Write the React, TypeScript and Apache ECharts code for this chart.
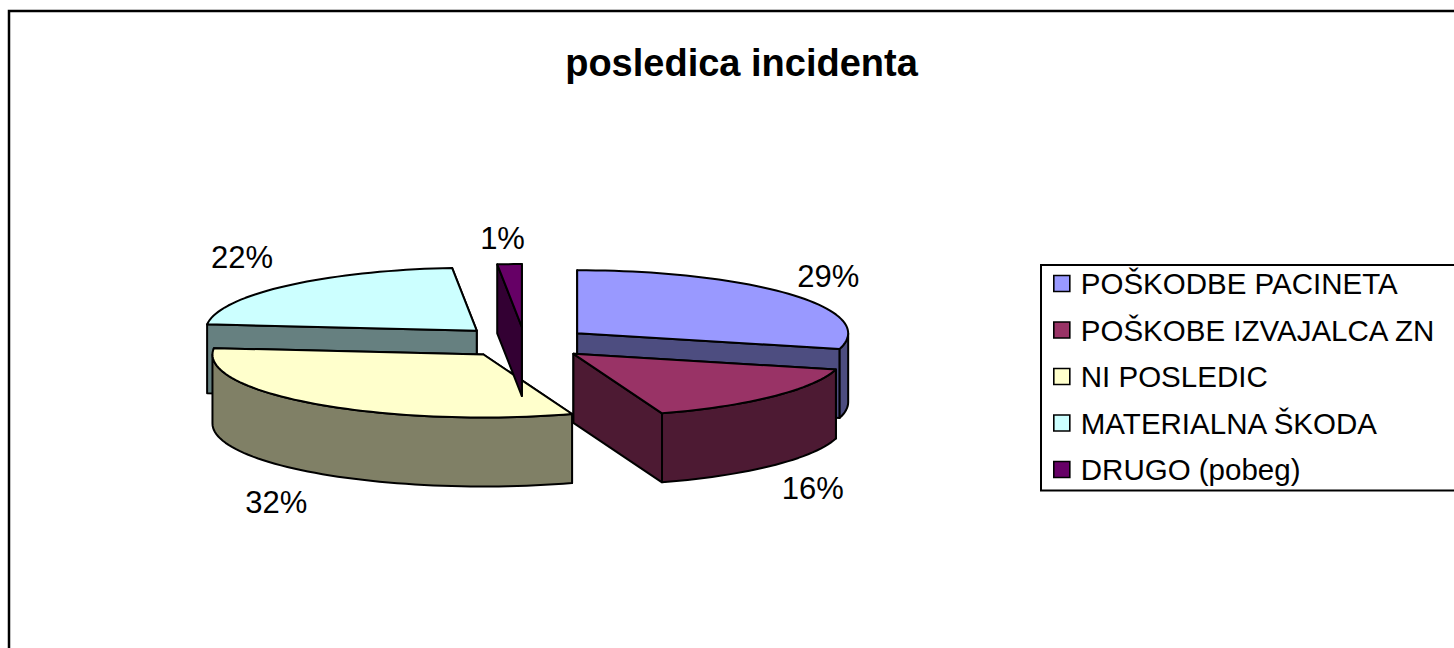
import React, { useEffect, useRef } from "react";
import * as echarts from "echarts";

const categories = ["POŠKODBE PACINETA", "POŠKOBE IZVAJALCA ZN", "NI POSLEDIC", "MATERIALNA ŠKODA", "DRUGO (pobeg)"];
const values = [29, 15.7, 31.9, 21.95, 1.45];
const topColors = ["#9999FF", "#993366", "#FFFFCC", "#CCFFFF", "#660066"];
const wallColors = ["#4D4D80", "#4D1A33", "#808066", "#668080", "#330033"];
// painter's order of the slices, back to front
const depthOrder = [2, 3, 4, 1, 5];
// label offset from the rim at each slice's middle angle
const labelOffsets = [[37, -18], [40, 23], [-39, 30], [-44, -28], [-7, -26]];
// small shift of each exploded slice
const sliceNudges = [[0, 0], [0, 0], [3, -1], [2, -1], [2, 0]];

const CX = 523, CY = 343, RX = 271, RY = 63, DEPTH = 69, EXPLODE = 0.253;
const FONT = '"Liberation Sans", Arial, sans-serif';
const total = values.reduce((a, b) => a + b, 0);

function point(ax: number, ay: number, deg: number, dy = 0): number[] {
  const t = (deg * Math.PI) / 180;
  return [ax + RX * Math.sin(t), ay - RY * Math.cos(t) + dy];
}

function arc(ax: number, ay: number, a0: number, a1: number, dy = 0): number[][] {
  const n = Math.max(2, Math.ceil(Math.abs(a1 - a0) / 2));
  const pts: number[][] = [];
  for (let i = 0; i <= n; i++) pts.push(point(ax, ay, a0 + ((a1 - a0) * i) / n, dy));
  return pts;
}

function renderSlice(index: number) {
  return (_params: any, api: any) => {
    const value = api.value(0);
    const before = values.slice(0, index).reduce((a, b) => a + b, 0);
    const a0 = (before / total) * 360;
    const a1 = a0 + (value / total) * 360;
    const mid = (((a0 + a1) / 2) * Math.PI) / 180;
    const ax = CX + EXPLODE * RX * Math.sin(mid) + sliceNudges[index][0];
    const ay = CY - EXPLODE * RY * Math.cos(mid) + sliceNudges[index][1];
    const line = { stroke: "#000", lineWidth: 2, lineJoin: "round" };
    const wall = { ...line, fill: wallColors[index] };
    const top = { ...line, fill: topColors[index] };
    const face = (deg: number) => {
      const p = point(ax, ay, deg);
      return { key: deg, y: p[1], pts: [[ax, ay], p, [p[0], p[1] + DEPTH], [ax, ay + DEPTH]] };
    };
    const faces = [face(a0), face(a1)].sort((a, b) => a.y - b.y);
    const children: any[] = faces.map((f) => ({
      type: "polygon",
      shape: { points: f.pts },
      style: wall,
    }));
    const r0 = Math.max(a0, 90);
    const r1 = Math.min(a1, 270);
    if (r1 > r0) {
      children.push({
        type: "polygon",
        shape: { points: [...arc(ax, ay, r0, r1), ...arc(ax, ay, r1, r0, DEPTH)] },
        style: wall,
      });
    }
    children.push({
      type: "polygon",
      shape: { points: [[ax, ay], ...arc(ax, ay, a0, a1)] },
      style: top,
    });
    const m = point(ax, ay, (a0 + a1) / 2, Math.cos(mid) < 0 ? DEPTH : 0);
    children.push({
      type: "text",
      style: {
        x: m[0] + labelOffsets[index][0],
        y: m[1] + labelOffsets[index][1],
        text: `${Math.round((value / total) * 100)}%`,
        fill: "#000",
        font: `31px ${FONT}`,
        align: "center",
        verticalAlign: "middle",
      },
    });
    return { type: "group", children };
  };
}

export default function App() {
  const ref = useRef<HTMLDivElement>(null);
  useEffect(() => {
    document.body.style.margin = "0";
    document.body.style.overflow = "hidden";
    const chart = echarts.init(ref.current!, undefined, { renderer: "svg" });
    chart.setOption({
      animation: false,
      backgroundColor: "#fff",
      title: {
        text: "posledica incidenta",
        left: 736.5,
        top: 39,
        textAlign: "center",
        textStyle: { fontFamily: FONT, fontSize: 38, fontWeight: "bold", color: "#000" },
      },
      legend: {
        orient: "vertical",
        left: 1041,
        top: 265,
        padding: [3.5, 60, 6, 12],
        icon: "rect",
        itemWidth: 16,
        itemHeight: 16,
        itemGap: 16.5,
        borderColor: "#000",
        borderWidth: 2,
        backgroundColor: "#fff",
        data: categories,
        textStyle: { fontFamily: FONT, fontSize: 29.5, color: "#000", padding: [0, 0, 0, 6] },
        itemStyle: { borderColor: "#000", borderWidth: 1.6 },
      },
      graphic: [
        {
          type: "rect",
          silent: true,
          z: -1,
          shape: { x: 9, y: 11, width: 1600, height: 800 },
          style: { fill: "none", stroke: "#000", lineWidth: 2.5 },
        },
      ],
      series: categories.map((name, i) => ({
        type: "custom",
        name,
        coordinateSystem: "none",
        z: depthOrder[i],
        silent: true,
        itemStyle: { color: topColors[i] },
        data: [[values[i]]],
        renderItem: renderSlice(i),
      })),
    });
    return () => chart.dispose();
  }, []);
  return <div ref={ref} style={{ width: 1454, height: 648 }} />;
}
